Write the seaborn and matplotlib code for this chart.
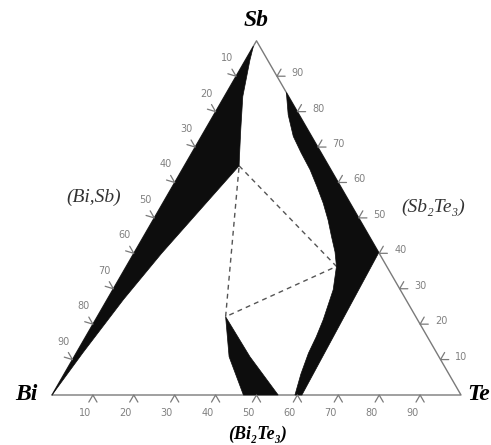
import numpy as np
import pandas as pd
import matplotlib
matplotlib.use("Agg")
import matplotlib.pyplot as plt
import seaborn as sns

# ---- data (compositions in at.%: Sb and Te, Bi = 100 - Sb - Te) ----
corner_names = ["Bi", "Te", "Sb"]
tick_values = [10, 20, 30, 40, 50, 60, 70, 80, 90]

# (Bi,Sb) single-phase field: inner boundary from near Sb corner down to Bi
bisb_sb = [98.5, 94.6, 84.3, 74.9, 66.4, 64.7, 55.0, 40.0, 27.0, 12.0, 0.0]
bisb_te = [0.0, 1.1, 4.5, 8.7, 12.6, 13.4, 10.8, 6.8, 4.0, 1.6, 0.0]

# (Sb2Te3) single-phase field: outer edge, then inner boundary bottom -> top
sbte_sb = [85.4, 40.2, 0.0, 0.0, 5.9, 11.8, 16.4, 21.2, 29.7, 36.3, 40.4,
           44.7, 49.4, 54.2, 58.8, 63.6, 68.4, 73.0, 79.1]
sbte_te = [14.6, 59.8, 61.1, 59.4, 57.9, 56.8, 56.4, 55.7, 53.9, 51.4, 49.0,
           46.0, 42.8, 39.2, 35.4, 31.3, 26.7, 22.5, 18.2]

# (Bi2Te3) single-phase field
bite_sb = [22.1, 10.8, 0.0, 0.0, 10.8]
bite_te = [31.4, 37.9, 46.8, 55.3, 43.0]

# three-phase tie triangle
tie_sb = [64.7, 36.3, 22.1, 64.7]
tie_te = [13.4, 51.4, 31.4, 13.4]

phase_labels = ["(Bi,Sb)", "(Sb\u2082Te\u2083)", "(Bi\u2082Te\u2083)"]


def to_xy(sb, te):
    sb = np.asarray(sb, float) / 100.0
    te = np.asarray(te, float) / 100.0
    return te + sb / 2.0, sb * np.sqrt(3) / 2.0


sns.set_style("white")
fig = plt.figure(figsize=(4.91, 4.45), dpi=100)
ax = fig.add_axes([0, 0, 1, 1])
ax.set_xlim(-52 / 409, 439 / 409)
ax.set_ylim(-50 / 409, 395 / 409)
ax.set_axis_off()

edge_col = "#7a7a7a"
fill_col = "#0d0d0d"

# triangle frame
fx, fy = to_xy([0, 0, 100, 0], [0, 100, 0, 0])
frame = pd.DataFrame({"x": fx, "y": fy})
sns.lineplot(data=frame, x="x", y="y", sort=False, estimator=None,
             color=edge_col, lw=1.0, ax=ax)

# phase fields
for sb, te in [(bisb_sb, bisb_te), (sbte_sb, sbte_te), (bite_sb, bite_te)]:
    x, y = to_xy(sb, te)
    ax.fill(x, y, color=fill_col, lw=0.5, ec=fill_col, zorder=3)

# tie triangle (dashed)
tx, ty = to_xy(tie_sb, tie_te)
tie = pd.DataFrame({"x": tx, "y": ty})
sns.lineplot(data=tie, x="x", y="y", sort=False, estimator=None,
             color="#555555", lw=1.0, ls=(0, (3.5, 3)), ax=ax, zorder=2)

# ticks (chevrons outward) and labels
L = 0.02
s3 = np.sqrt(3) / 2
tick_kw = dict(color=edge_col, lw=0.9, zorder=4)
lab_kw = dict(fontsize=7, color="#808080", family="DejaVu Sans")
for v in tick_values:
    # bottom edge: Te = v
    x, y = to_xy(0, v)
    ax.plot([x - 0.5 * L, x, x + 0.5 * L], [y - s3 * L, y, y - s3 * L], **tick_kw)
    ax.text(x - 8 / 409, y - 18 / 409, str(v), ha="center", va="center", **lab_kw)
    # left edge: Bi = v  (Sb = 100 - v, Te = 0)
    x, y = to_xy(100 - v, 0)
    ax.plot([x - L, x, x - 0.5 * L], [y + 0.3 * L, y, y + s3 * L], **tick_kw)
    ax.text(x - 9 / 409, y + 18 / 409, str(v), ha="center", va="center", **lab_kw)
    # right edge: Sb = v (Bi = 0)
    x, y = to_xy(v, 100 - v)
    ax.plot([x + L, x, x + 0.5 * L], [y, y, y + s3 * L], **tick_kw)
    ax.text(x + 21 / 409, y + 3 / 409, str(v), ha="center", va="center", **lab_kw)

# corner labels
corner_kw = dict(fontsize=17, fontweight="bold", style="italic",
                 family=["Liberation Serif", "DejaVu Serif"], color="black")
ax.text(0.5, s3 + 20 / 409, corner_names[2], ha="center", va="center", **corner_kw)
ax.text(-26 / 409, 0.0, corner_names[0], ha="center", va="center", **corner_kw)
ax.text(438 / 409, 0.0, corner_names[1], ha="right", va="center", **corner_kw)

# phase labels
ph_kw = dict(fontsize=14, style="italic", family=["Liberation Serif", "DejaVu Serif"],
             color="#333333")
ax.text(42 / 409, 198 / 409, phase_labels[0], ha="center", va="center", **ph_kw)
ax.text(381 / 409, 188 / 409, phase_labels[1], ha="center", va="center", **ph_kw)
ax.text(206 / 409, -39 / 409, phase_labels[2], ha="center", va="center",
        fontsize=13, style="italic", fontweight="bold",
        family=["Liberation Serif", "DejaVu Serif"], color="black")

fig.savefig("out.png", dpi=100)
